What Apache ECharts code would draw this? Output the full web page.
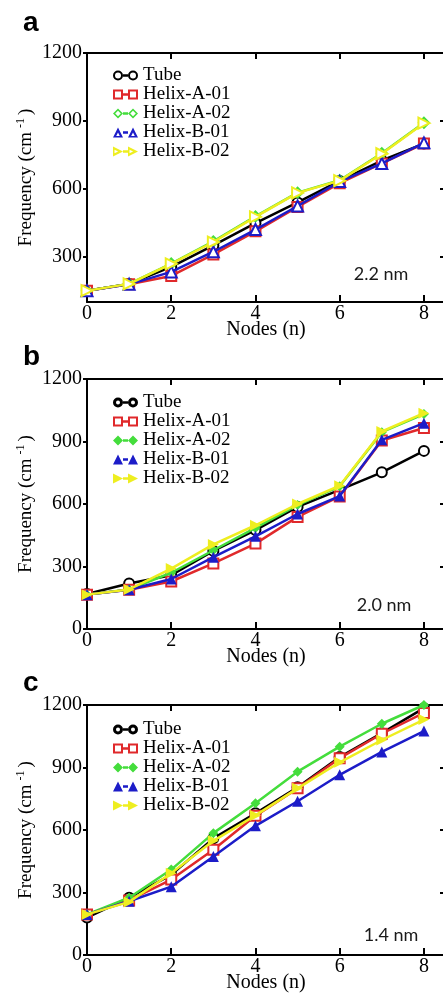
<!DOCTYPE html>
<html><head><meta charset="utf-8">
<script src="https://cdn.jsdelivr.net/npm/echarts@6/dist/echarts.min.js"></script>
<style>html,body{margin:0;padding:0;background:#fff}#c{width:443px;height:997px}</style>
</head><body><div id="c"></div>
<script>
// ---------- data ----------
const nodes = [0, 1, 2, 3, 4, 5, 6, 7, 8];
const seriesNames = ['Tube', 'Helix-A-01', 'Helix-A-02', 'Helix-B-01', 'Helix-B-02'];
const panelLetters = ['a', 'b', 'c'];
const diameterLabels = ['2.2 nm', '2.0 nm', '1.4 nm'];
const xTickValues = [0, 2, 4, 6, 8];
const yTicksA = [300, 600, 900, 1200];
const yTicksBC = [0, 300, 600, 900, 1200];

// panel a : 2.2 nm
const tube_22     = [150, 180, 255, 350, 448, 540, 635, 725, 800];
const helixA01_22 = [150, 178, 215, 310, 412, 520, 625, 712, 800];
const helixA02_22 = [150, 180, 270, 368, 478, 583, 638, 757, 892];
const helixB01_22 = [150, 178, 233, 322, 420, 524, 632, 712, 803];
const helixB02_22 = [150, 180, 268, 365, 476, 582, 636, 755, 890];
// panel b : 2.0 nm
const tube_20     = [168, 218, 258, 375, 475, 586, 668, 752, 855];
const helixA01_20 = [165, 188, 228, 315, 410, 538, 636, 905, 965];
const helixA02_20 = [165, 190, 270, 378, 485, 595, 685, 945, 1032];
const helixB01_20 = [165, 188, 240, 345, 445, 552, 638, 908, 988];
const helixB02_20 = [165, 190, 290, 406, 498, 600, 688, 948, 1036];
// panel c : 1.4 nm
const tube_14     = [180, 275, 385, 560, 680, 805, 950, 1065, 1185];
const helixA01_14 = [195, 262, 362, 505, 668, 800, 945, 1062, 1162];
const helixA02_14 = [195, 275, 410, 585, 728, 880, 1000, 1110, 1200];
const helixB01_14 = [195, 258, 328, 473, 620, 738, 865, 975, 1075];
const helixB02_14 = [195, 255, 392, 548, 670, 800, 925, 1032, 1130];

const panelData = [
  [tube_22, helixA01_22, helixA02_22, helixB01_22, helixB02_22],
  [tube_20, helixA01_20, helixA02_20, helixB01_20, helixB02_20],
  [tube_14, helixA01_14, helixA02_14, helixB01_14, helixB02_14]
];
const yMins = [100, 0, 0];
const yTicks = [yTicksA, yTicksBC, yTicksBC];

// ---------- styles ----------
const colors = ['#000000', '#e0292b', '#44dd3c', '#1c1cc8', '#eeee20'];
const SERIF = 'Liberation Serif';
const gridTops = [53, 379, 705];
const gridH = [249, 250, 250];
const legendTops = [66, 393, 720];
const letterY = [23, 357, 683];
const annotX = [381, 384, 391];
const annotY = [274, 605, 935];

const symA = [['emptyCircle',0],['emptyRect',0],['emptyDiamond',0],['emptyTriangle',0],['emptyTriangle',-90]];
const symB = [['emptyCircle',0],['emptyRect',0],['diamond',0],['triangle',0],['triangle',-90]];
const panelSyms = [symA, symB, symB];

// legend icon path builder (pair of markers joined by a bar), box 25x10
function shapePath(kind, ox, hole) {
  let s = '';
  const c = ox + 5;
  if (kind === 'circle') {
    s += `M${ox},5 A5,5 0 1,1 ${ox+10},5 A5,5 0 1,1 ${ox},5 Z `;
    if (hole) s += `M${c-hole},5 A${hole},${hole} 0 1,0 ${c+hole},5 A${hole},${hole} 0 1,0 ${c-hole},5 Z `;
  } else if (kind === 'rect') {
    s += `M${ox},0 L${ox+10},0 L${ox+10},10 L${ox},10 Z `;
    if (hole) s += `M${c-hole},${5-hole} L${c-hole},${5+hole} L${c+hole},${5+hole} L${c+hole},${5-hole} Z `;
  } else if (kind === 'diamond') {
    s += `M${ox},5 L${c},0 L${ox+10},5 L${c},10 Z `;
    if (hole) s += `M${c-hole},5 L${c},${5+hole} L${c+hole},5 L${c},${5-hole} Z `;
  } else if (kind === 'triangle') {
    s += `M${ox},10 L${c},0 L${ox+10},10 Z `;
    if (hole) s += `M${c-hole},8.5 L${c+hole},8.5 L${c},${8.5-2*hole} Z `;
  } else if (kind === 'tright') {
    s += `M${ox},0 L${ox+10},5 L${ox},10 Z `;
    if (hole) s += `M${ox+1.5},${5-hole} L${ox+1.5},${5+hole} L${ox+1.5+2*hole},5 Z `;
  }
  return s;
}
function pairIcon(kind, hole) {
  return 'path://' + shapePath(kind, 0, hole) + 'M10,3.8 L15,3.8 L15,6.2 L10,6.2 Z ' + shapePath(kind, 15, hole);
}
const kinds = ['circle', 'rect', 'diamond', 'triangle', 'tright'];
const iconHoles = [
  [3, 3, 2.8, 1.8, 1.8],
  [2, 3, 0, 0, 0],
  [2, 3, 0, 0, 0]
];

const grids = [], xAxes = [], yAxes = [], series = [], legends = [], graphics = [];
const axisLine = { show: true, onZero: false, lineStyle: { color: '#000', width: 2 } };
const tickLine = { color: '#000', width: 2 };
const plain = v => String(v);

for (let p = 0; p < 3; p++) {
  grids.push({ left: 87, right: -2, top: gridTops[p], height: gridH[p], containLabel: false, outerBoundsMode: 'none' });
  xAxes.push({
    type: 'value', gridIndex: p, min: 0, max: 8.5, position: 'bottom',
    axisLine: axisLine,
    axisTick: { show: true, inside: true, length: 7, lineStyle: tickLine, customValues: xTickValues },
    axisLabel: { show: true, customValues: xTickValues, formatter: plain, fontFamily: SERIF, fontSize: 20, color: '#000', margin: 2 },
    splitLine: { show: false },
    name: 'Nodes (n)', nameLocation: 'middle', nameGap: 18, nameMoveOverlap: false,
    nameTextStyle: { fontFamily: SERIF, fontSize: 20, color: '#000' }
  });
  xAxes.push({
    type: 'value', gridIndex: p, min: 0, max: 8.5, position: 'top',
    axisLine: axisLine,
    axisTick: { show: true, inside: true, length: 6, lineStyle: tickLine, customValues: xTickValues },
    axisLabel: { show: false }, splitLine: { show: false }
  });
  yAxes.push({
    type: 'value', gridIndex: p, min: yMins[p], max: 1200, position: 'left',
    axisLine: axisLine,
    axisTick: { show: true, inside: false, length: 4, lineStyle: tickLine, customValues: yTicks[p] },
    axisLabel: { show: true, customValues: yTicks[p], formatter: plain, fontFamily: SERIF, fontSize: 20, color: '#000', margin: 5 },
    splitLine: { show: false },
    name: '{t|Frequency (cm}{s|-1}{t|)}', nameLocation: 'middle', nameGap: 50, nameMoveOverlap: false,
    nameTextStyle: {
      fontFamily: SERIF, fontSize: 19, color: '#000',
      rich: {
        t: { fontFamily: SERIF, fontSize: 19, color: '#000', lineHeight: 22 },
        s: { fontFamily: SERIF, fontSize: 12, color: '#000', verticalAlign: 'top', lineHeight: 22, padding: [0, 3, 0, 4] }
      }
    }
  });
  yAxes.push({
    type: 'value', gridIndex: p, min: yMins[p], max: 1200, position: 'right',
    axisLine: axisLine,
    axisTick: { show: true, inside: true, length: 5, lineStyle: tickLine, customValues: yTicks[p] },
    axisLabel: { show: false }, splitLine: { show: false }
  });

  for (let s = 0; s < 5; s++) {
    const sym = panelSyms[p][s];
    const hollow = sym[0].indexOf('empty') === 0;
    series.push({
      type: 'line', name: seriesNames[s],
      xAxisIndex: 2 * p, yAxisIndex: 2 * p,
      data: nodes.map((x, j) => [x, panelData[p][s][j]]),
      symbol: sym[0], symbolRotate: sym[1],
      symbolSize: (s === 3 || s === 4) ? 11 : 10,
      showAllSymbol: true, clip: false,
      lineStyle: { color: colors[s], width: 2.5 },
      itemStyle: { color: colors[s], borderColor: colors[s], borderWidth: hollow ? (p > 0 && s === 0 ? 3 : 2) : 0 },
      emphasis: { disabled: true },
      z: 2 + s
    });
  }

  legends.push({
    orient: 'vertical', left: 113, top: legendTops[p], padding: 0,
    itemWidth: 25, itemHeight: 10, itemGap: 0, selectedMode: false,
    itemStyle: { borderWidth: 0 },
    textStyle: { fontFamily: SERIF, fontSize: 19, color: '#000', lineHeight: 18 },
    data: seriesNames.map((n, s) => ({ name: n, icon: pairIcon(kinds[s], iconHoles[p][s]), itemStyle: { color: colors[s], borderWidth: 0 } }))
  });

  graphics.push({
    type: 'text', x: 23, y: letterY[p],
    style: { text: panelLetters[p], fontFamily: 'Liberation Sans', fontWeight: 'bold', fontSize: 28, fill: '#000', align: 'left', verticalAlign: 'middle' }
  });
  graphics.push({
    type: 'text', x: annotX[p], y: annotY[p],
    style: { text: diameterLabels[p], fontFamily: 'Lato', fontSize: 18, fill: '#1a1a1a', align: 'center', verticalAlign: 'middle' }
  });
}

const chart = echarts.init(document.getElementById('c'), null, { renderer: 'canvas' });
chart.setOption({
  animation: false,
  backgroundColor: '#ffffff',
  grid: grids, xAxis: xAxes, yAxis: yAxes,
  legend: legends, series: series, graphic: graphics
});
</script>
</body></html>
